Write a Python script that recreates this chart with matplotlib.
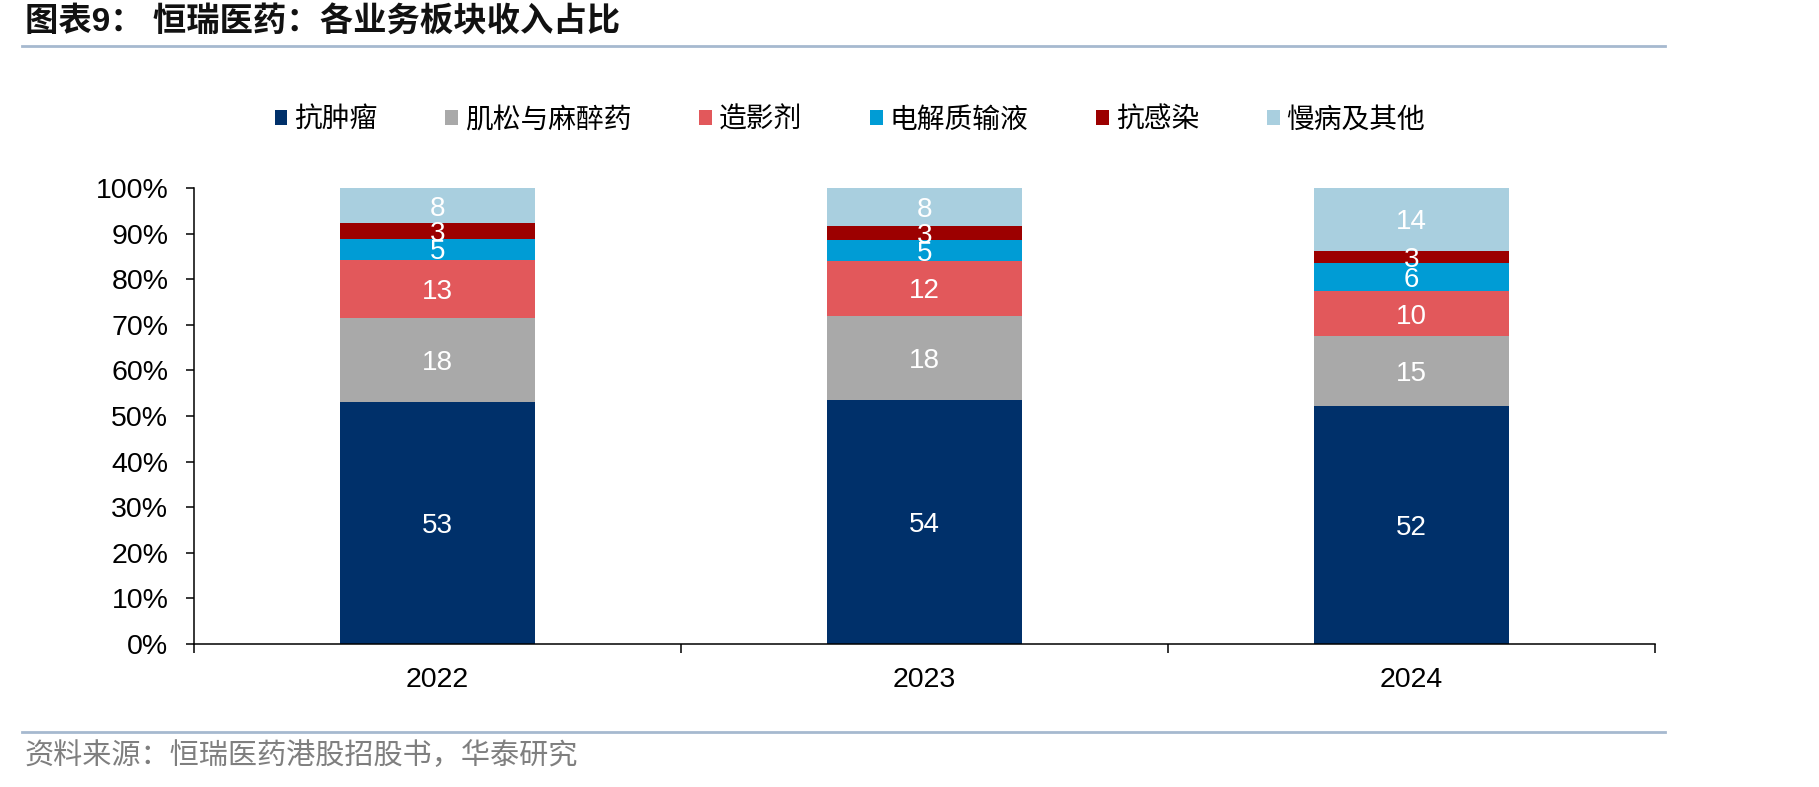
import matplotlib
matplotlib.use('Agg')
import matplotlib.pyplot as plt
from matplotlib.patches import Patch
from matplotlib.lines import Line2D
import numpy as np

plt.rcParams['font.family'] = ['Liberation Sans', 'Noto Sans CJK SC', 'DejaVu Sans']

# ---- data ----
years = ['2022', '2023', '2024']
segments = ['抗肿瘤', '肌松与麻醉药', '造影剂', '电解质输液', '抗感染', '慢病及其他']
anti_tumor = [53.1, 53.6, 52.1]
anesthesia = [18.4, 18.4, 15.4]
contrast = [12.8, 12.0, 9.9]
electrolyte = [4.6, 4.6, 6.1]
anti_infect = [3.4, 3.1, 2.8]
chronic = [7.7, 8.3, 13.7]
series = [anti_tumor, anesthesia, contrast, electrolyte, anti_infect, chronic]
colors = ['#00306A', '#A9A9A9', '#E2585B', '#009CD5', '#9C0000', '#A9CFDF']
yticks = [0, 10, 20, 30, 40, 50, 60, 70, 80, 90, 100]

title = '图表9： 恒瑞医药：各业务板块收入占比'
source = '资料来源：恒瑞医药港股招股书，华泰研究'

W, H = 1819, 787
fig = plt.figure(figsize=(W / 100, H / 100), dpi=100)
ax = fig.add_axes([194 / W, 1 - 643.7 / H, (1655 - 194) / W, (643.7 - 188.3) / H])

x = np.arange(len(years))
bottom = np.zeros(len(years))
for vals, col in zip(series, colors):
    vals = np.array(vals)
    ax.bar(x, vals, 0.4, bottom=bottom, color=col, edgecolor='none', zorder=2)
    for xi, b, v in zip(x, bottom, vals):
        ax.text(xi, b + v / 2, f'{v:.0f}', ha='center', va='center_baseline',
                color='white', fontsize=20, zorder=3)
    bottom += vals

ax.set_xlim(-0.5, len(years) - 0.5)
ax.set_ylim(0, 100)
ax.set_yticks(yticks)
ax.set_yticklabels([f'{v}%' for v in yticks])
ax.set_xticks(x)
ax.set_xticklabels(years)
ax.set_xticks(np.arange(len(years) + 1) - 0.5, minor=True)
ax.tick_params(axis='x', which='major', length=0, pad=17, labelsize=20.5)
ax.tick_params(axis='x', which='minor', length=6.5, width=1.1, direction='out')
ax.tick_params(axis='y', which='major', length=5.5, width=1.1, direction='out', pad=13, labelsize=20.5)
for s in ['top', 'right']:
    ax.spines[s].set_visible(False)
for s in ['left', 'bottom']:
    ax.spines[s].set_linewidth(1.1)
    ax.spines[s].set_color('black')

handles = [Patch(facecolor=c, edgecolor='none') for c in colors]
fig.legend(handles, segments, loc='center', bbox_to_anchor=(850 / W, 1 - 120.6 / H),
           ncol=6, frameon=False, fontsize=20, columnspacing=2.45,
           handletextpad=0.25, handlelength=0.45, handleheight=0.45)

# title and rules
fig.text(25 / W, 1 - 23 / H, title, ha='left', va='center', fontsize=24,
         fontweight='bold', color='#111111')
fig.add_artist(Line2D([22 / W, 1665 / W], [1 - 46 / H, 1 - 46 / H],
                      transform=fig.transFigure, color='#A6B9CF', linewidth=2))
fig.add_artist(Line2D([22 / W, 1665 / W], [1 - 732 / H, 1 - 732 / H],
                      transform=fig.transFigure, color='#A6B9CF', linewidth=2))
fig.text(25 / W, 1 - 756 / H, source, ha='left', va='center', fontsize=21,
         color='#7F7F7F')

fig.savefig('out.png', dpi=100)
